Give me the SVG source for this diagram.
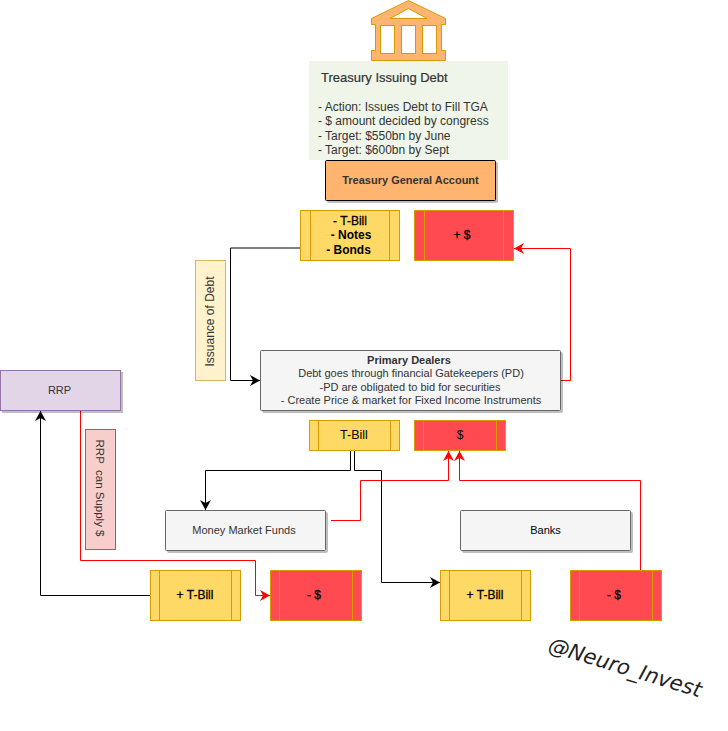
<svg xmlns="http://www.w3.org/2000/svg" width="728" height="731" viewBox="0 0 728 731">
<defs>
<filter id="sh" x="-5%" y="-10%" width="115%" height="130%"><feDropShadow dx="2" dy="2" stdDeviation="0" flood-color="#000" flood-opacity="0.25"/></filter>
<marker id="ab" markerUnits="userSpaceOnUse" markerWidth="12" markerHeight="12" refX="10" refY="5.500" orient="auto" overflow="visible"><path d="M0 0 L10 5.500 L0 11 L3 5.500 Z" fill="#000"/></marker>
<marker id="ar" markerUnits="userSpaceOnUse" markerWidth="12" markerHeight="12" refX="10" refY="5.500" orient="auto" overflow="visible"><path d="M0 0 L10 5.500 L0 11 L3 5.500 Z" fill="#f00"/></marker>
</defs>
<style>
text{font-family:"Liberation Sans",Arial,sans-serif;font-size:11px;text-anchor:middle;fill:#333}
.b{font-weight:bold}
.dk{fill:#000}
.f{font-size:12px;stroke:#000;stroke-width:0.3}
.y rect,.y line{fill:#FFD966;stroke:#d79b00;stroke-width:1}
.r rect,.r line{fill:#FF4A52;stroke:#d79b00;stroke-width:1}
.g rect{fill:#f5f5f5;stroke:#666;stroke-width:1;filter:url(#sh)}
.k{fill:none;stroke:#000;stroke-width:1;marker-end:url(#ab)}
.d{fill:none;stroke:#f00;stroke-width:1;marker-end:url(#ar)}
</style>
<g id="connectors">
<path class="k" d="M300 248H230.500V380.500H260"/>
<path class="d" d="M560 380.500H570.500V248.500H514"/>
<path class="k" d="M350.500 450V470.500H205.500V510"/>
<path class="k" d="M354.500 450V470.500H381.500V582.500H440"/>
<path class="d" d="M331 520.500H360.500V480.500H448.500V451"/>
<path class="d" d="M640.500 570V480.500H459.500V451"/>
<path class="d" d="M80.500 410.500V560.500H255.500V595.500H270"/>
<path class="k" d="M150 595.500H40.500V411"/>
</g>
<g id="bank"><path d="M408.500 0.500L445.500 18.500V24.500H441.500V50.500H445.500V60.500H371.500V50.500H375.500V24.500H371.500V18.500Z" fill="#FFB570" stroke="#d79b00" stroke-width="1"/>
<path d="M390 18.500L408.500 8.500L427 18.500Z" fill="#fff" stroke="#d79b00"/>
<rect x="380.500" y="25.500" width="14" height="28" fill="#fff" stroke="#d79b00"/><rect x="401.500" y="25.500" width="14" height="28" fill="#fff" stroke="#d79b00"/><rect x="422.500" y="25.500" width="14" height="28" fill="#fff" stroke="#d79b00"/></g>
<g id="treasury-note"><rect x="309" y="61" width="199" height="99" fill="#F0F5E9"/>
<text x="321" y="82" style="text-anchor:start;font-size:13px" stroke="#333" stroke-width="0.2">Treasury Issuing Debt</text>
<text x="318" y="111" style="text-anchor:start;font-size:12px">- Action: Issues Debt to Fill TGA</text>
<text x="318" y="125" style="text-anchor:start;font-size:12px">- $ amount decided by congress</text>
<text x="318" y="140" style="text-anchor:start;font-size:12px">- Target: $550bn by June</text>
<text x="318" y="154" style="text-anchor:start;font-size:12px">- Target: $600bn by Sept</text></g>
<g id="tga"><rect x="325.500" y="160.500" width="170" height="40" rx="1" fill="#FFB570" stroke="#000" filter="url(#sh)"/><text class="b" x="410.500" y="184">Treasury General Account</text></g>
<g id="tbill-top" class="y"><rect x="300.500" y="210.500" width="99" height="50"/><line x1="310.500" y1="210.500" x2="310.500" y2="260.500"/><line x1="389.500" y1="210.500" x2="389.500" y2="260.500"/>
<text class="dk f" x="350" y="225">- T-Bill</text><text class="b dk" style="font-size:12px" x="351" y="239">- Notes</text><text class="b dk" style="font-size:12px" x="348.500" y="254">- Bonds</text></g>
<g id="cash-top" class="r"><rect x="414.500" y="210.500" width="99" height="50"/><line x1="424.500" y1="210.500" x2="424.500" y2="260.500"/><line x1="503.500" y1="210.500" x2="503.500" y2="260.500"/><text class="dk f" x="462" y="239">+ $</text></g>
<g id="issuance"><rect x="195.500" y="260.500" width="30" height="120" fill="#fff2cc" stroke="#d6b656"/><text transform="translate(214 321.500) rotate(-90)" style="font-size:12px">Issuance of Debt</text></g>
<g id="primary-dealers" class="g"><rect x="260.500" y="350.500" width="300" height="60" rx="1"/>
<text class="b" x="409" y="364">Primary Dealers</text><text x="411" y="377">Debt goes through financial Gatekeepers (PD)</text><text x="410" y="391">-PD are obligated to bid for securities</text><text x="411" y="404">- Create Price &amp; market for Fixed Income Instruments</text></g>
<g id="tbill-mid" class="y"><rect x="309.500" y="420.500" width="90" height="30"/><line x1="318.500" y1="420.500" x2="318.500" y2="450.500"/><line x1="390.500" y1="420.500" x2="390.500" y2="450.500"/><text class="dk" x="354" y="439" style="font-size:12.500px">T-Bill</text></g>
<g id="cash-mid" class="r"><rect x="414.500" y="420.500" width="91" height="30"/><line x1="423.500" y1="420.500" x2="423.500" y2="450.500"/><line x1="496.500" y1="420.500" x2="496.500" y2="450.500"/><text class="dk" x="460" y="439" style="font-size:12px">$</text></g>
<g id="mmf" class="g"><rect x="165.500" y="510.500" width="160" height="40" rx="1"/><text x="244" y="534">Money Market Funds</text></g>
<g id="banks" class="g"><rect x="460.500" y="510.500" width="170" height="40" rx="1"/><text class="dk" x="545.500" y="534">Banks</text></g>
<g id="rrp"><rect x="0.500" y="370.500" width="120" height="40" fill="#e1d5e7" stroke="#9673a6" filter="url(#sh)"/><text x="59.500" y="394">RRP</text></g>
<g id="rrp-note"><rect x="85.500" y="429.500" width="30" height="120" fill="#f8cecc" stroke="#b85450"/><text transform="translate(96 488) rotate(90)" style="font-size:11.500px" xml:space="preserve">RRP  can Supply $</text></g>
<g id="tbill-mmf" class="y"><rect x="150.500" y="570.500" width="90" height="50"/><line x1="159.500" y1="570.500" x2="159.500" y2="620.500"/><line x1="231.500" y1="570.500" x2="231.500" y2="620.500"/><text class="dk f" x="195" y="599">+ T-Bill</text></g>
<g id="cash-mmf" class="r"><rect x="270.500" y="570.500" width="91" height="50"/><line x1="279.500" y1="570.500" x2="279.500" y2="620.500"/><line x1="352.500" y1="570.500" x2="352.500" y2="620.500"/><text class="dk f" x="314" y="599">- $</text></g>
<g id="tbill-banks" class="y"><rect x="440.500" y="570.500" width="90" height="50"/><line x1="449.500" y1="570.500" x2="449.500" y2="620.500"/><line x1="521.500" y1="570.500" x2="521.500" y2="620.500"/><text class="dk f" x="485" y="599">+ T-Bill</text></g>
<g id="cash-banks" class="r"><rect x="570.500" y="570.500" width="91" height="50"/><line x1="579.500" y1="570.500" x2="579.500" y2="620.500"/><line x1="652.500" y1="570.500" x2="652.500" y2="620.500"/><text class="dk f" x="614" y="599">- $</text></g>
<text id="watermark" transform="translate(547 651) rotate(17)" style="text-anchor:start;font-family:'DejaVu Sans',sans-serif;font-style:italic;font-size:21px;fill:#222">@Neuro_Invest</text>
</svg>
